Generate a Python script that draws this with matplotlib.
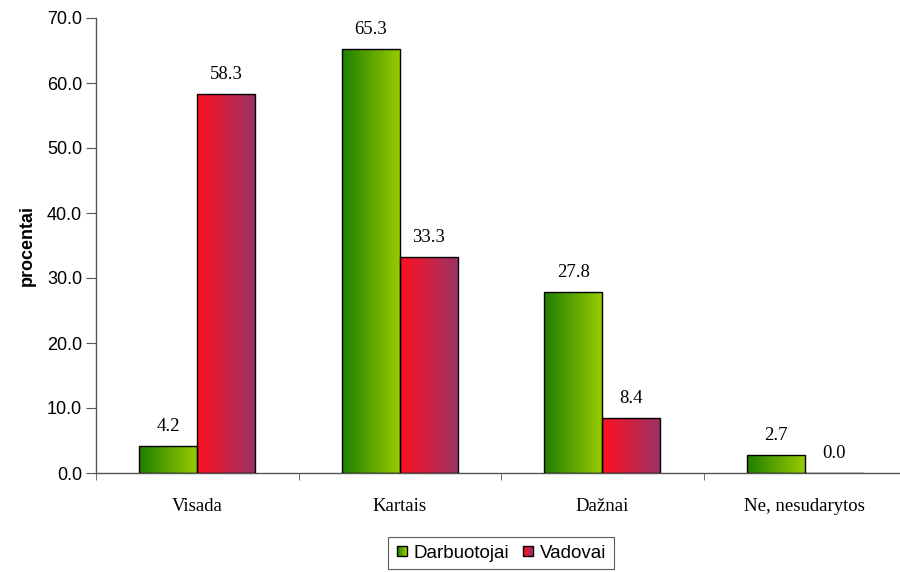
import numpy as np
import matplotlib.pyplot as plt
from matplotlib.patches import Rectangle
from matplotlib.legend_handler import HandlerBase
from matplotlib.colors import LinearSegmentedColormap

categories = ['Visada', 'Kartais', 'Dažnai', 'Ne, nesudarytos']
darbuotojai = [4.2, 65.3, 27.8, 2.7]
vadovai = [58.3, 33.3, 8.4, 0.0]
series_names = ['Darbuotojai', 'Vadovai']
yticks = [0, 10, 20, 30, 40, 50, 60, 70]

green = LinearSegmentedColormap.from_list('g', ['#1f7f00', '#99cc00'])
red = LinearSegmentedColormap.from_list('r', ['#ff1020', '#993366'])
grad = np.linspace(0, 1, 256).reshape(1, -1)

fig = plt.figure(figsize=(9, 5.72), dpi=100)
ax = fig.add_axes([96 / 900, 1 - 473 / 572, 810 / 900, 455 / 572])

x = np.arange(len(categories))
w = 0.287


def gradient_bars(xpos, vals, cmap):
    bars = ax.bar(xpos, vals, w, color='none', edgecolor='black', linewidth=1.0, zorder=3)
    for b in bars:
        if b.get_height() <= 0:
            continue
        x0, y0 = b.get_x(), b.get_y()
        im = ax.imshow(grad, cmap=cmap, aspect='auto', zorder=2,
                       extent=(x0, x0 + b.get_width(), y0, y0 + b.get_height()))
        im.set_clip_path(b)
    return bars


bars_d = gradient_bars(x - w / 2, darbuotojai, green)
bars_v = gradient_bars(x + w / 2, vadovai, red)

for bars, vals in ((bars_d, darbuotojai), (bars_v, vadovai)):
    for b, v in zip(bars, vals):
        ax.text(b.get_x() + b.get_width() / 2, v + 1.7, f'{v:.1f}',
                ha='center', va='bottom', fontsize=13.5, family='Liberation Serif')

ax.set_xlim(-0.5, len(categories) - 0.5)
ax.set_ylim(0, 70)
ax.set_yticks(yticks)
ax.set_yticklabels([f'{t:.1f}' for t in yticks], fontsize=13, family='Liberation Sans')
ax.set_xticks(np.arange(len(categories) + 1) - 0.5, minor=True)
ax.set_xticks(x)
ax.set_xticklabels(categories, fontsize=13.5, family='Liberation Serif')
ax.tick_params(axis='x', which='major', length=0, pad=18)
ax.tick_params(axis='x', which='minor', direction='out', length=5, color='#555555')
ax.tick_params(axis='y', length=7, color='#555555', pad=3)
ax.set_ylabel('procentai', fontsize=13, fontweight='bold', family='Liberation Sans', labelpad=8)

for side in ('top', 'right'):
    ax.spines[side].set_visible(False)
for side in ('left', 'bottom'):
    ax.spines[side].set_color('#555555')
    ax.spines[side].set_linewidth(1.0)


class GradientHandler(HandlerBase):
    def __init__(self, cmap):
        super().__init__()
        self.cmap = cmap

    def create_artists(self, legend, orig_handle, xdescent, ydescent, width, height, fontsize, trans):
        s = 10 * 0.72  # points
        x0 = width - s
        y0 = (height - s) / 2
        n = 12
        arts = []
        for i in range(n):
            arts.append(Rectangle((x0 + s * i / n, y0), s / n, s, facecolor=self.cmap(i / (n - 1)),
                                  edgecolor='none', transform=trans))
        arts.append(Rectangle((x0, y0), s, s, facecolor='none', edgecolor='black', lw=1.0, transform=trans))
        return arts


h_d = Rectangle((0, 0), 1, 1)
h_v = Rectangle((0, 0), 1, 1)
leg = fig.legend([h_d, h_v], series_names, loc='upper center', bbox_to_anchor=(501 / 900, 1 - 537 / 572),
                 ncol=2, frameon=True, fancybox=False, edgecolor='#333333',
                 prop={'family': 'Liberation Sans', 'size': 13.5},
                 handler_map={h_d: GradientHandler(green), h_v: GradientHandler(red)},
                 handlelength=0.6, handletextpad=0.35, columnspacing=0.7, borderpad=0.4,
                 borderaxespad=0)
leg.get_frame().set_linewidth(0.8)

fig.savefig('out.png', dpi=100)
